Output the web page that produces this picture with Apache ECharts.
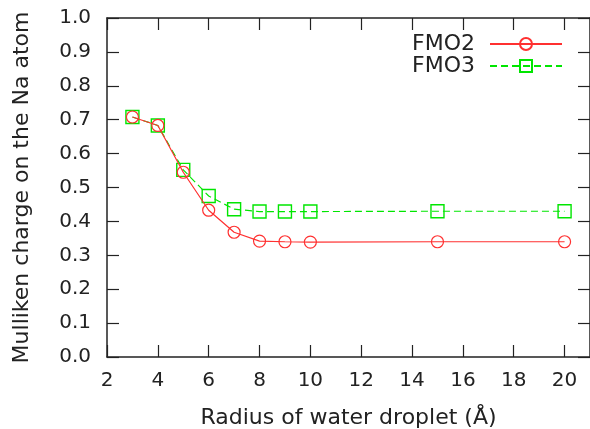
<!DOCTYPE html>
<html>
<head>
<meta charset="utf-8">
<script src="https://cdn.jsdelivr.net/npm/echarts@6/dist/echarts.min.js"></script>
<style>
  html, body { margin: 0; padding: 0; background: #fff; }
  #chart { width: 590px; height: 429px; }
</style>
</head>
<body>
<div id="chart"></div>
<script>
// radius of water droplet (Å)
const radius = [3, 4, 5, 6, 7, 8, 9, 10, 15, 20];
const fmo2 = [0.708, 0.683, 0.545, 0.433, 0.368, 0.342, 0.340, 0.339, 0.340, 0.340];
const fmo3 = [0.708, 0.683, 0.552, 0.475, 0.436, 0.429, 0.429, 0.429, 0.430, 0.430];
const seriesNames = ["FMO2", "FMO3"];

const font = "DejaVu Sans, Verdana, sans-serif";
const ink = "#222";
const textStyle = { color: ink, fontFamily: font, fontSize: 20 };

function pairs(xs, ys) {
  return xs.map((x, i) => [x, ys[i]]);
}

const frame = { show: true, onZero: false, lineStyle: { color: ink, width: 1.5 } };
const ticks = { show: true, inside: true, length: 12, lineStyle: { color: ink, width: 1.2 } };

const chart = echarts.init(document.getElementById("chart"));
chart.setOption({
  animation: false,
  grid: { left: 107, right: 0, top: 18, bottom: 72, outerBoundsMode: "none" },
  legend: {
    orient: "vertical",
    align: "right",
    right: 22,
    top: 28,
    itemWidth: 72,
    itemHeight: 15,
    itemGap: 0,
    textStyle: { ...textStyle, fontSize: 22, padding: [0, 10, 0, 0] },
    data: seriesNames,
  },
  xAxis: [
    {
      type: "value",
      min: 2,
      max: 21,
      interval: 2,
      name: "Radius of water droplet (Å)",
      nameLocation: "middle",
      nameGap: 50,
      nameTextStyle: { ...textStyle, fontSize: 22 },
      axisLine: frame,
      axisTick: ticks,
      splitLine: { show: false },
      axisLabel: { ...textStyle, margin: 14, showMaxLabel: false },
    },
    {
      type: "value",
      position: "top",
      min: 2,
      max: 21,
      interval: 2,
      axisLine: frame,
      axisTick: ticks,
      splitLine: { show: false },
      axisLabel: { show: false },
    },
  ],
  yAxis: [
    {
      type: "value",
      min: 0,
      max: 1,
      interval: 0.1,
      name: "Mulliken charge on the Na atom",
      nameLocation: "middle",
      nameGap: 74,
      nameTextStyle: { ...textStyle, fontSize: 22 },
      axisLine: frame,
      axisTick: ticks,
      splitLine: { show: false },
      axisLabel: { ...textStyle, margin: 16, formatter: (v) => v.toFixed(1) },
    },
    {
      type: "value",
      position: "right",
      min: 0,
      max: 1,
      interval: 0.1,
      axisLine: frame,
      axisTick: ticks,
      splitLine: { show: false },
      axisLabel: { show: false },
    },
  ],
  series: [
    {
      name: seriesNames[0],
      type: "line",
      data: pairs(radius, fmo2),
      symbol: "circle",
      symbolSize: 12,
      lineStyle: { width: 1.2, color: "#ff3030" },
      itemStyle: { color: "rgba(0,0,0,0)", borderColor: "#ff3030", borderWidth: 1.2 },
      z: 3,
    },
    {
      name: seriesNames[1],
      type: "line",
      data: pairs(radius, fmo3),
      symbol: "rect",
      symbolSize: 13,
      lineStyle: { width: 1.2, color: "#00e600", type: [7, 4] },
      itemStyle: { color: "rgba(0,0,0,0)", borderColor: "#00e600", borderWidth: 1.4 },
      z: 2,
    },
  ],
});
</script>
</body>
</html>
